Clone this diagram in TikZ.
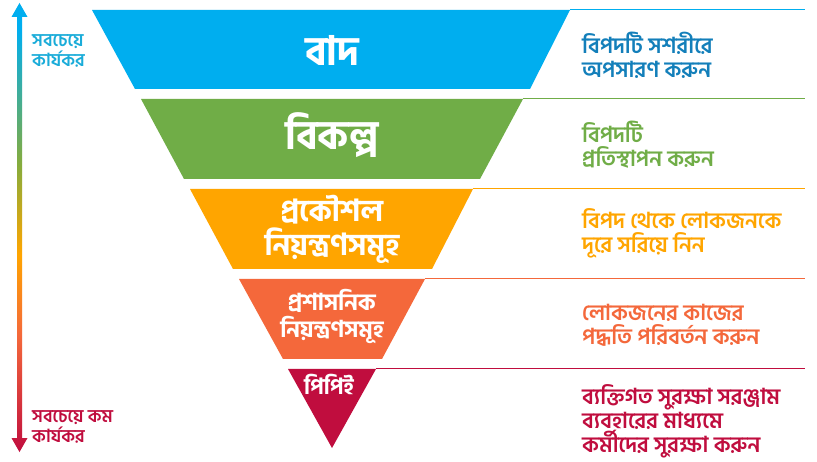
\documentclass[tikz,border=0pt]{standalone}
\usepackage{fontspec}
\newfontfamily\bnfont[Script=Bengali]{Hind Siliguri SemiBold}
\newfontfamily\bnbold[Script=Bengali]{Hind Siliguri Bold}
\usetikzlibrary{calc}
\definecolor{elimblue}{HTML}{00AEEF}
\definecolor{elimtext}{HTML}{137FBA}
\definecolor{substgreen}{HTML}{70AD47}
\definecolor{enggold}{HTML}{FFA500}
\definecolor{admincoral}{HTML}{F4683B}
\definecolor{ppecrimson}{HTML}{C00D3E}
\definecolor{toplabel}{HTML}{1AACD9}
\pgfdeclareverticalshading{effective}{100bp}{color(0bp)=(ppecrimson); color(25bp)=(ppecrimson); color(38bp)=(admincoral); color(47bp)=(enggold); color(57bp)=(substgreen!85!enggold); color(72bp)=(elimblue); color(100bp)=(elimblue)}

\begin{document}
\begin{tikzpicture}[x=1pt,y=-1pt,
   font=\bnfont,
   level/.style={inner sep=0pt,align=center,text=white},
   hint/.style={anchor=west,align=left,inner sep=0pt,font=\bnfont\fontsize{22}{24}\selectfont},
   side/.style={anchor=north west,align=left,inner sep=0pt,font=\bnfont\fontsize{18}{20}\selectfont},
   rule/.style={line width=1pt}]
\useasboundingbox (0,0) rectangle (817,462);
\fill[white] (0,0) rectangle (817,462);
% effectiveness arrow
\shade[shading=effective] (19.5,3) coordinate (most) -- (27.5,17) -- (22,17) -- (22,438) -- (27.5,438) -- (19.5,452) coordinate (least) -- (11.5,438) -- (17,438) -- (17,17) -- (11.5,17) -- cycle;
\node[side,text=toplabel] (mostlbl) at (32,34) {সবচেয়ে\\কার্যকর};
\node[side,text=ppecrimson] (leastlbl) at (32,410) {সবচেয়ে কম\\কার্যকর};
% funnel
\fill[elimblue] (92,10) -- (570,10) coordinate (elimR) -- (530,89) -- (135,89) -- cycle;
\fill[substgreen] (141,99) -- (523,99) coordinate (substR) -- (480,179) -- (184,179) -- cycle;
\fill[enggold] (190,189) -- (473,189) coordinate (engR) -- (432,269) -- (233,269) -- cycle;
\fill[admincoral] (239,279) -- (425,279) coordinate (adminR) -- (382,359) -- (283,359) -- cycle;
\fill[ppecrimson] (288,369) -- (376,369) coordinate (ppeR) -- (332,448) -- cycle;
\node[level,font=\bnbold\fontsize{40}{40}\selectfont] (elim) at (332,50) {বাদ};
\node[level,font=\bnbold\fontsize{40}{40}\selectfont] (subst) at (332,135) {বিকল্প};
\node[level,font=\bnbold\fontsize{30}{34}\selectfont] (eng) at (332,229) {প্রকৌশল\\নিয়ন্ত্রণসমূহ};
\node[level,font=\bnbold\fontsize{23}{27}\selectfont] (admin) at (332,317) {প্রশাসনিক\\নিয়ন্ত্রণসমূহ};
\node[level,anchor=west,font=\bnbold\fontsize{22}{24}\selectfont] (ppe) at (304,384) {পিপিই};
% guide lines
\coordinate (elimE) at (805,10);
\coordinate (substE) at (805,99);
\coordinate (engE) at (805,189);
\coordinate (adminE) at (805,279);
\coordinate (ppeE) at (805,369);
\draw[rule,elimblue] (elimR) -- (elimE);
\draw[rule,substgreen] (substR) -- (substE);
\draw[rule,enggold] (engR) -- (engE);
\draw[rule,admincoral] (adminR) -- (adminE);
\draw[rule,ppecrimson] (ppeR) -- (ppeE);
% actions
\node[hint,text=elimtext] (elimtxt) at (582,55) {বিপদটি সশরীরে\\অপসারণ করুন};
\node[hint,text=substgreen] (substtxt) at (582,145) {বিপদটি\\প্রতিস্থাপন করুন};
\node[hint,text=enggold] (engtxt) at (582,233) {বিপদ থেকে লোকজনকে\\দূরে সরিয়ে নিন};
\node[hint,text=admincoral] (admintxt) at (582,325) {লোকজনের কাজের\\পদ্ধতি পরিবর্তন করুন};
\node[hint,text=ppecrimson] (ppetxt) at (582,421) {ব্যক্তিগত সুরক্ষা সরঞ্জাম\\ব্যবহারের মাধ্যমে\\কর্মীদের সুরক্ষা করুন};
\end{tikzpicture}
\end{document}
